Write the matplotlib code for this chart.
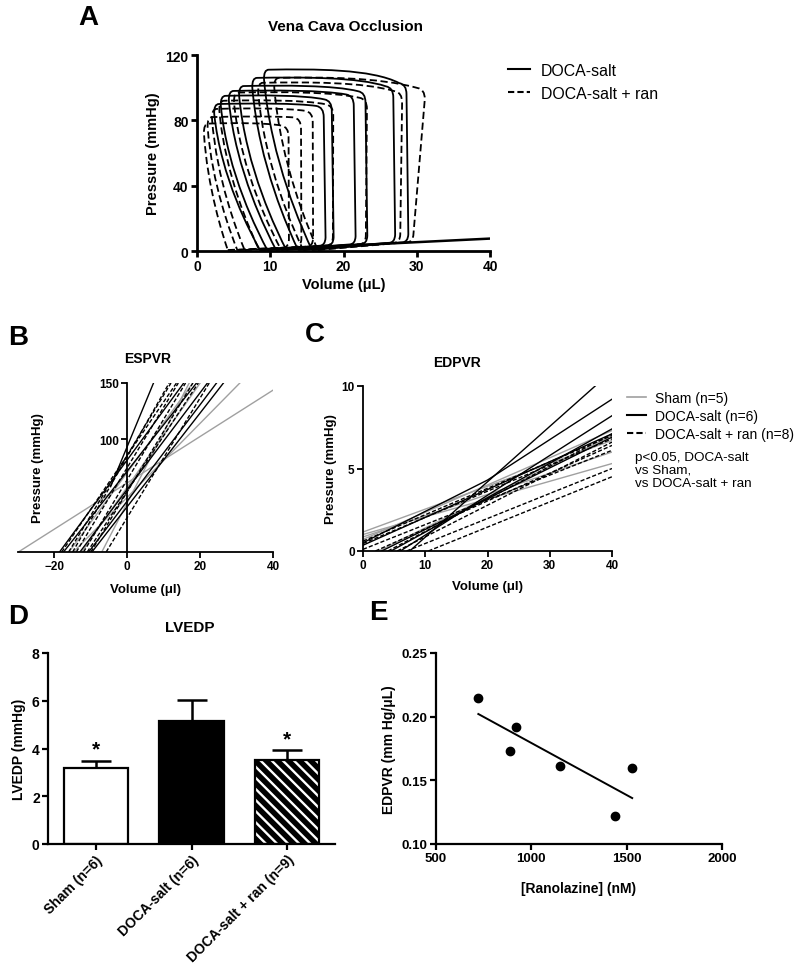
import numpy as np
import matplotlib.pyplot as plt
from matplotlib.path import Path
from matplotlib.patches import PathPatch
from matplotlib.lines import Line2D

plt.rcParams['font.family'] = ['Liberation Sans', 'DejaVu Sans']
plt.rcParams['hatch.linewidth'] = 1.7

W, H = 800, 978

# ---- panel A: PV loops during vena cava occlusion (volume uL, pressure mmHg)
a_doca_esv = [9.1, 7.5, 5.7, 4.3, 3.2, 2.3]
a_doca_edv = [28.8, 27.0, 23.2, 21.6, 18.6, 17.5]
a_doca_pes = [111, 106, 101, 98, 95, 90]
a_doca_pej = [102, 100, 97, 95, 92, 88]
a_doca_rend = [15.7, 13.8, 12.2, 10.8, 9.6, 8.6]
a_doca_edp = [5.3, 5.0, 4.3, 4.0, 3.4, 3.2]
a_doca_lean = [-0.2, -0.2, -0.2, -0.2, -0.2, -0.2]

a_ran_esv = [10.5, 8.3, 5.0, 3.0, 2.0, 1.4, 0.9]
a_ran_edv = [29.5, 27.7, 23.0, 18.5, 15.8, 14.2, 12.5]
a_ran_pes = [106, 103, 97, 92, 87, 82, 78]
a_ran_pej = [99, 97, 93, 89, 85, 81, 76]
a_ran_rend = [16.5, 14.5, 11.5, 8.5, 6.5, 5.5, 4.2]
a_ran_edp = [5.4, 5.1, 4.2, 3.4, 2.7, 2.4, 2.0]
a_ran_lean = [1.6, 0.3, 0.2, 0.1, 0.0, 0.0, 0.0]

a_base_vol = [9.0, 40.0]
a_base_p = [0.8, 7.6]

# ---- panel B: ESPVR lines, volume at P=0 and P=150
b_sham_v0 = [-29.9, -14.8, -12.5, -16.0, -7.0]
b_sham_v150 = [43.1, 30.9, 20.0, 18.0, 17.0]
b_doca_v0 = [-12.0, -18.6, -17.5, -10.6, -9.7, -13.0]
b_doca_v150 = [7.2, 15.5, 19.0, 24.5, 26.4, 22.0]
b_doca_pstart = [58, 0, 0, 0, 0, 0]
b_ran_v0 = [-5.8, -16.1, -14.0, -18.0, -12.0, -10.0, -15.0, -11.0]
b_ran_v150 = [22.5, 12.0, 14.0, 13.5, 16.0, 18.0, 11.5, 19.5]

# ---- panel C: EDPVR lines (volume, pressure points)
c_sham = [([0, 40], [1.15, 6.7]), ([0, 40], [1.0, 5.3]), ([0, 40], [0.85, 6.0]),
          ([2.5, 40], [0, 7.0]), ([0, 40], [0.7, 7.3])]
c_doca = [([7.5, 37.3], [0, 10.0]), ([0, 20, 40], [0.5, 4.3, 9.2]), ([6.0, 40], [0, 8.2]),
          ([4.5, 40], [0, 7.4]), ([0, 40], [0.35, 7.1]), ([3.0, 40], [0, 6.9])]
c_ran = [([10.5, 40], [0, 4.5]), ([0, 40], [0.1, 6.1]), ([0, 40], [0.6, 7.0]),
         ([0, 40], [0.45, 6.8]), ([2.0, 40], [0, 6.4]), ([4.0, 40], [0, 7.1]),
         ([7.0, 40], [0, 5.0]), ([5.5, 40], [0, 6.6])]

# ---- panel D: LVEDP bars
d_groups = ["Sham (n=6)", "DOCA-salt (n=6)", "DOCA-salt + ran (n=9)"]
d_mean = [3.17, 5.15, 3.52]
d_sem = [0.30, 0.90, 0.40]
d_sig = [True, False, True]

# ---- panel E: EDPVR vs ranolazine
e_ran = [722, 888, 922, 1148, 1440, 1529]
e_edpvr = [0.215, 0.173, 0.192, 0.161, 0.122, 0.160]


def box(l, t, r, b):
    return [l / W, 1 - b / H, (r - l) / W, (b - t) / H]


def style(ax, lw=1.5):
    for s in ['top', 'right']:
        ax.spines[s].set_visible(False)
    for s in ['left', 'bottom']:
        ax.spines[s].set_linewidth(lw)
    ax.tick_params(direction='out', width=lw, length=4, pad=2)
    for lab in ax.get_xticklabels() + ax.get_yticklabels():
        lab.set_fontweight('bold')


def loop_path(esv, edv, pes, pej, rend, edp, lean):
    sv = edv - esv
    rx = rend - esv
    verts = [(rend, 0.6), (edv - 0.8, edp),
             (edv, edp), (edv + 0.05, edp + 5),
             (edv + lean, pej - 6),
             (edv + lean, pej), (edv + lean - 1.0, pej + 0.8),
             (edv - 0.25 * sv, pes + 0.5), (esv + 0.35 * sv, pes + 0.5), (esv + 0.7, pes),
             (esv, pes), (esv + 0.05, pes - 6),
             (esv + 0.15 * rx, pes * 0.5), (esv + 0.8 * rx, pes * 0.12), (rend, 0.6)]
    codes = [Path.MOVETO, Path.LINETO,
             Path.CURVE3, Path.CURVE3,
             Path.LINETO,
             Path.CURVE3, Path.CURVE3,
             Path.CURVE4, Path.CURVE4, Path.CURVE4,
             Path.CURVE3, Path.CURVE3,
             Path.CURVE4, Path.CURVE4, Path.CURVE4]
    return Path(verts, codes)


fig = plt.figure(figsize=(W / 100, H / 100), dpi=100)

# ================= A
ax = fig.add_axes(box(197, 56, 490, 252))
for i in range(len(a_doca_esv)):
    p = loop_path(a_doca_esv[i], a_doca_edv[i], a_doca_pes[i], a_doca_pej[i],
                  a_doca_rend[i], a_doca_edp[i], a_doca_lean[i])
    ax.add_patch(PathPatch(p, fill=False, ec='black', lw=1.3))
for i in range(len(a_ran_esv)):
    p = loop_path(a_ran_esv[i], a_ran_edv[i], a_ran_pes[i], a_ran_pej[i],
                  a_ran_rend[i], a_ran_edp[i], a_ran_lean[i])
    ax.add_patch(PathPatch(p, fill=False, ec='black', lw=1.3, ls=(0, (4, 2))))
ax.plot(a_base_vol, a_base_p, color='black', lw=1.8)
ax.set_xlim(0, 40)
ax.set_ylim(0, 120)
ax.set_xticks([0, 10, 20, 30, 40])
ax.set_yticks([0, 40, 80, 120])
ax.tick_params(labelsize=10)
style(ax, lw=2)
ax.set_xlabel("Volume (\u03bcL)", fontsize=10.5, fontweight='bold', labelpad=3)
ax.set_ylabel("Pressure (mmHg)", fontsize=10.5, fontweight='bold', labelpad=4)
handles = [Line2D([], [], color='black', lw=1.5),
           Line2D([], [], color='black', lw=1.5, ls=(0, (3, 1.5)))]
ax.legend(handles, ["DOCA-salt", "DOCA-salt + ran"], loc='upper left',
          bbox_to_anchor=(508 / W, 1 - 64 / H), bbox_transform=fig.transFigure,
          frameon=False, fontsize=11.4, handlelength=1.4, handletextpad=0.7,
          labelspacing=0.5, borderaxespad=0, borderpad=0)

# ================= B
ax = fig.add_axes(box(18, 384, 273, 553))
pp = np.array([0, 150])
for v0, v1 in zip(b_sham_v0, b_sham_v150):
    ax.plot(np.interp(pp, [0, 150], [v0, v1]), pp, color='#a0a0a0', lw=1.0)
for v0, v1, ps in zip(b_doca_v0, b_doca_v150, b_doca_pstart):
    pr = np.array([ps, 150])
    ax.plot(np.interp(pr, [0, 150], [v0, v1]), pr, color='black', lw=1.0)
for v0, v1 in zip(b_ran_v0, b_ran_v150):
    ax.plot(np.interp(pp, [0, 150], [v0, v1]), pp, color='black', lw=1.0, ls=(0, (3, 1.5)))
ax.set_xlim(-30, 40)
ax.set_ylim(0, 150)
ax.set_xticks([-20, 0, 20, 40])
ax.set_yticks([100, 150])
ax.spines['left'].set_position(('data', 0))
ax.tick_params(labelsize=8.5)
style(ax, lw=1.3)
ax.set_xlabel("Volume (\u03bcl)", fontsize=9.5, fontweight='bold', labelpad=8)
ax.set_ylabel("Pressure (mmHg)", fontsize=9.5, fontweight='bold')
ax.yaxis.set_label_coords(0.1, 0.5)

# ================= C
ax = fig.add_axes(box(363, 387, 612, 552))
for v, p in c_sham:
    ax.plot(v, p, color='#a0a0a0', lw=1.0)
for v, p in c_doca:
    ax.plot(v, p, color='black', lw=1.0)
for v, p in c_ran:
    ax.plot(v, p, color='black', lw=1.0, ls=(0, (3, 1.5)))
ax.set_xlim(0, 40)
ax.set_ylim(0, 10)
ax.set_xticks([0, 10, 20, 30, 40])
ax.set_yticks([0, 5, 10])
ax.tick_params(labelsize=8.5)
style(ax, lw=1.3)
ax.set_xlabel("Volume (\u03bcl)", fontsize=9.5, fontweight='bold', labelpad=6)
ax.set_ylabel("Pressure (mmHg)", fontsize=9.5, fontweight='bold', labelpad=3)
handles = [Line2D([], [], color='#a0a0a0', lw=1.2),
           Line2D([], [], color='black', lw=1.5),
           Line2D([], [], color='black', lw=1.5, ls=(0, (3, 1.5)))]
ax.legend(handles, ["Sham (n=5)", "DOCA-salt (n=6)", "DOCA-salt + ran (n=8)"],
          loc='upper left', bbox_to_anchor=(627 / W, 1 - 392 / H),
          bbox_transform=fig.transFigure, frameon=False, fontsize=10,
          handlelength=1.4, handletextpad=0.6, labelspacing=0.3,
          borderaxespad=0, borderpad=0)
fig.text(635 / W, 1 - 452 / H, "p<0.05, DOCA-salt\nvs Sham,\nvs DOCA-salt + ran",
         fontsize=9.7, va='top', ha='left', linespacing=1.1)

# ================= D
ax = fig.add_axes(box(48, 654, 335, 845))
xs = np.arange(len(d_groups))
ax.errorbar(xs, d_mean, yerr=[np.zeros(3), d_sem], fmt='none', ecolor='black',
            elinewidth=1.8, capsize=11, capthick=1.8, zorder=1)
ax.bar(xs[0], d_mean[0], 0.67, color='white', edgecolor='black', lw=1.6, zorder=2)
ax.bar(xs[1], d_mean[1], 0.67, color='black', edgecolor='black', lw=1.6, zorder=2)
ax.bar(xs[2], d_mean[2], 0.67, color='black', edgecolor='white', hatch='\\\\\\', lw=0, zorder=2)
ax.bar(xs[2], d_mean[2], 0.67, fill=False, edgecolor='black', lw=1.6, zorder=3)
for x, m, s, sig in zip(xs, d_mean, d_sem, d_sig):
    if sig:
        ax.text(x, m + s + 0.1, "*", ha='center', va='bottom', fontsize=15, fontweight='bold')
ax.set_xlim(-0.5, 2.5)
ax.set_ylim(0, 8)
ax.set_yticks([0, 2, 4, 6, 8])
ax.set_xticks(xs)
ax.set_xticklabels(d_groups, rotation=45, ha='right', rotation_mode='anchor')
ax.tick_params(labelsize=10)
style(ax, lw=1.6)
ax.set_ylabel("LVEDP (mmHg)", fontsize=10, fontweight='bold', labelpad=4)

# ================= E
ax = fig.add_axes(box(436, 654, 722, 845))
ax.plot(e_ran, e_edpvr, 'o', color='black', ms=6)
k, b = np.polyfit(e_ran, e_edpvr, 1)
xf = np.array([min(e_ran), max(e_ran)])
ax.plot(xf, k * xf + b, color='black', lw=1.4)
ax.set_xlim(500, 2000)
ax.set_ylim(0.10, 0.25)
ax.set_xticks([500, 1000, 1500, 2000])
ax.set_yticks([0.10, 0.15, 0.20, 0.25])
ax.yaxis.set_major_formatter(plt.FormatStrFormatter('%.2f'))
ax.tick_params(labelsize=9.5)
style(ax, lw=1.6)
ax.set_xlabel("[Ranolazine] (nM)", fontsize=10, fontweight='bold', labelpad=12)
ax.set_ylabel("EDPVR (mm Hg/\u03bcL)", fontsize=10, fontweight='bold', labelpad=4)

# ---- titles and panel letters
fig.text(345 / W, 1 - 27 / H, "Vena Cava Occlusion", fontsize=11, fontweight='bold', ha='center', va='center')
fig.text(148 / W, 1 - 359 / H, "ESPVR", fontsize=10, fontweight='bold', ha='center', va='center')
fig.text(457 / W, 1 - 363 / H, "EDPVR", fontsize=10, fontweight='bold', ha='center', va='center')
fig.text(190 / W, 1 - 628 / H, "LVEDP", fontsize=11, fontweight='bold', ha='center', va='center')
for lt, x, y in [("A", 88, 18), ("B", 18, 338), ("C", 315, 335), ("D", 18, 617), ("E", 378, 613)]:
    fig.text(x / W, 1 - y / H, lt, fontsize=20, fontweight='bold', ha='center', va='center')

fig.savefig("out.png", dpi=100)
